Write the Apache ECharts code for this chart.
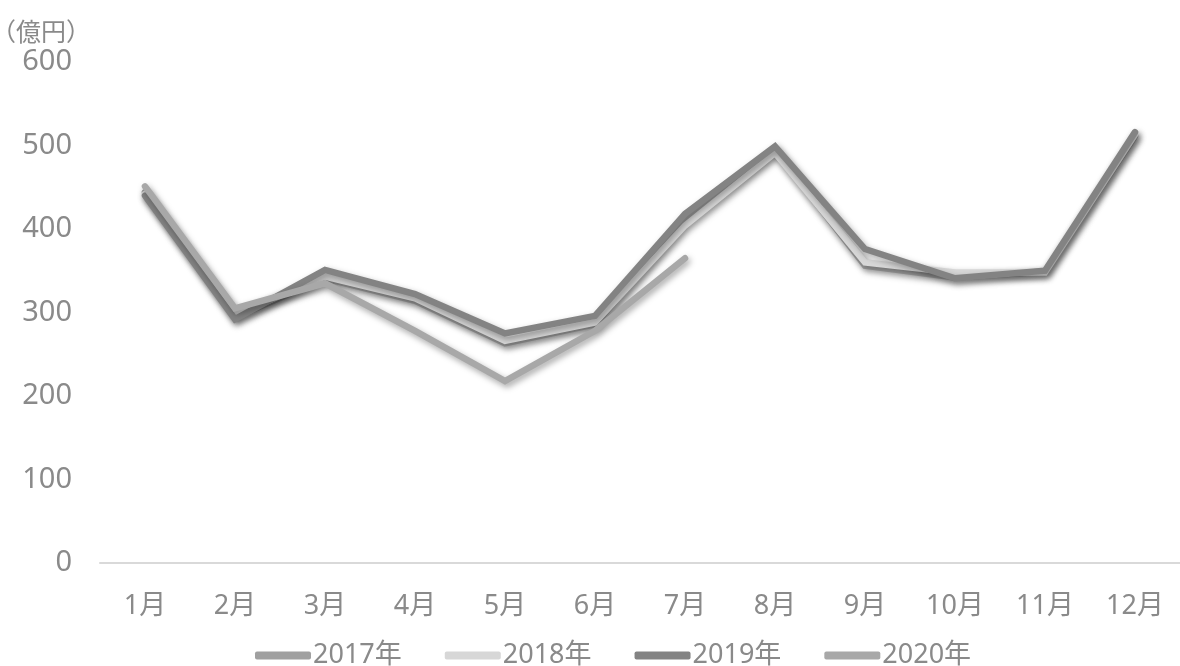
<!DOCTYPE html>
<html>
<head>
<meta charset="utf-8">
<script src="https://cdn.jsdelivr.net/npm/echarts@6/dist/echarts.min.js"></script>
<style>
  html, body { margin: 0; padding: 0; background: #ffffff; }
  #chart { width: 1180px; height: 666px; }
</style>
</head>
<body>
<div id="chart"></div>
<script>
// Monthly sales (億円) by year
const months = ['1月', '2月', '3月', '4月', '5月', '6月', '7月', '8月', '9月', '10月', '11月', '12月'];
const seriesNames = ['2017年', '2018年', '2019年', '2020年'];
const sales2017 = [444, 294, 341, 314, 263, 286, 410, 495, 356, 342, 349, 511];
const sales2018 = [442, 297, 343, 317, 266, 288, 404, 491, 360, 348, 348, 513];
const sales2019 = [440, 292, 351, 322, 275, 296, 418, 499, 376, 341, 350, 516];
const sales2020 = [451, 305, 335, 278, 218, 278, 365];
const yTicks = { min: 0, max: 600, interval: 100 };

const lineColors = ['#a0a0a0', '#d7d7d7', '#838383', '#a8a8a8'];
const textColor = '#8a8a8a';
const fontFamily = '"Noto Sans", "Noto Sans CJK JP", sans-serif';

const chart = echarts.init(document.getElementById('chart'));

function lineSeries(name, data, color) {
  return {
    name: name,
    type: 'line',
    data: data,
    symbol: 'none',
    color: color,
    lineStyle: {
      width: 6.5,
      color: color,
      cap: 'round',
      join: 'miter',
      shadowBlur: 6,
      shadowColor: 'rgba(0,0,0,0.35)',
      shadowOffsetX: 2,
      shadowOffsetY: 3
    },
    emphasis: { disabled: true }
  };
}

chart.setOption({
  animation: false,
  backgroundColor: '#ffffff',
  grid: { left: 100, right: 0, top: 62, bottom: 103, outerBoundsMode: 'none', containLabel: false },
  legend: {
    bottom: -8,
    left: 250,
    itemWidth: 56,
    itemHeight: 8,
    itemGap: 43,
    icon: 'roundRect',
    textStyle: { color: textColor, fontSize: 27, fontFamily: fontFamily, padding: [0, 0, 0, -3] },
    data: seriesNames
  },
  xAxis: {
    type: 'category',
    data: months,
    boundaryGap: true,
    axisLine: { show: true, lineStyle: { color: '#d9d9d9', width: 2 } },
    axisTick: { show: false },
    axisLabel: { color: textColor, fontSize: 27, fontFamily: fontFamily, margin: 30 }
  },
  yAxis: {
    type: 'value',
    min: yTicks.min,
    max: yTicks.max,
    interval: yTicks.interval,
    name: '（億円）',
    nameLocation: 'end',
    nameGap: 16,
    nameTextStyle: { color: textColor, fontSize: 25, fontFamily: fontFamily, align: 'right', padding: [0, 9, 0, 0] },
    axisLine: { show: false },
    axisTick: { show: false },
    splitLine: { show: false },
    axisLabel: { color: textColor, fontSize: 29, fontFamily: fontFamily, margin: 28 }
  },
  series: [
    lineSeries(seriesNames[0], sales2017, lineColors[0]),
    lineSeries(seriesNames[1], sales2018, lineColors[1]),
    lineSeries(seriesNames[2], sales2019, lineColors[2]),
    lineSeries(seriesNames[3], sales2020, lineColors[3])
  ]
});
</script>
</body>
</html>
